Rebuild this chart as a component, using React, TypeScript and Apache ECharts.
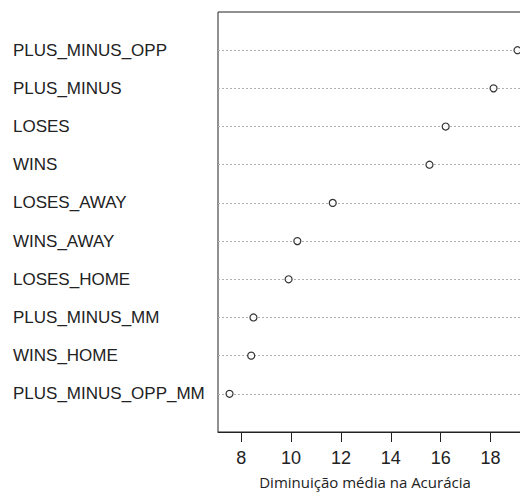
import React, { useEffect, useRef } from "react";
import * as echarts from "echarts";

const variables = [
  "PLUS_MINUS_OPP",
  "PLUS_MINUS",
  "LOSES",
  "WINS",
  "LOSES_AWAY",
  "WINS_AWAY",
  "LOSES_HOME",
  "PLUS_MINUS_MM",
  "WINS_HOME",
  "PLUS_MINUS_OPP_MM",
];
const importance = [19.08, 18.12, 16.2, 15.55, 11.67, 10.25, 9.9, 8.49, 8.4, 7.53];
const xTicks = [8, 10, 12, 14, 16, 18];
const xTitle = "Diminuição média na Acurácia";

export default function App() {
  const ref = useRef<HTMLDivElement>(null);
  useEffect(() => {
    if (!ref.current) return;
    const chart = echarts.init(ref.current, null, { renderer: "svg" });
    const n = variables.length;
    // bottom-to-top categories, padded with blank rows like R's dotchart ylim
    const cats = [" ", ...variables.slice().reverse(), "  "];
    const data = importance.map((v, i) => [v, n - i]);
    const minV = Math.min(...importance);
    const maxV = Math.max(...importance);
    const ext = (maxV - minV) * 0.04;
    chart.setOption({
      animation: false,
      backgroundColor: "#fff",
      grid: {
        show: true,
        left: 218,
        top: 12,
        width: 311,
        height: 420,
        borderColor: "#222",
        borderWidth: 1,
        backgroundColor: "transparent",
      },
      xAxis: {
        type: "value",
        min: minV - ext,
        max: maxV + ext,
        axisLine: { show: true, lineStyle: { color: "#222", width: 1 } },
        axisTick: {
          show: true,
          customValues: xTicks,
          length: 10,
          lineStyle: { color: "#222", width: 1 },
        },
        axisLabel: {
          customValues: xTicks,
          fontSize: 18,
          color: "#222",
          margin: 17,
          fontFamily: "Liberation Sans",
        },
        splitLine: { show: false },
      },
      yAxis: {
        type: "category",
        data: cats,
        boundaryGap: false,
        axisLine: { show: false },
        axisTick: { show: false },
        axisLabel: {
          interval: 0,
          align: "left",
          margin: 205,
          fontSize: 17,
          color: "#222",
          fontFamily: "Liberation Sans",
        },
        splitLine: {
          show: true,
          interval: (_idx: number, val: string) => val.trim() !== "",
          lineStyle: { type: [2, 2], color: "#b0b0b0", width: 1 },
        },
      },
      graphic: [
        {
          type: "text",
          x: 365,
          y: 482,
          style: {
            text: xTitle,
            fontSize: 15,
            fontFamily: "Open Sans",
            fill: "#222",
            align: "center",
            verticalAlign: "middle",
          },
        },
      ],
      series: [
        {
          type: "scatter",
          data,
          symbol: "circle",
          symbolSize: 7,
          itemStyle: { color: "#fff", borderColor: "#000", borderWidth: 1.2 },
          z: 5,
        },
      ],
    });
    return () => chart.dispose();
  }, []);
  return (
    <div
      ref={ref}
      style={{ position: "fixed", left: 0, top: 0, width: 540, height: 493, background: "#fff" }}
    />
  );
}
